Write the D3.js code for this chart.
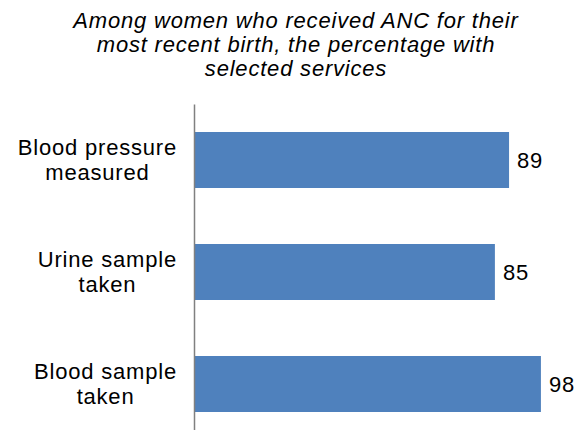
<!DOCTYPE html>
<html>
<head>
<meta charset="utf-8">
<script src="https://cdn.jsdelivr.net/npm/d3@7"></script>
<style>
html,body{margin:0;padding:0;background:#fff;}
svg{display:block;}
</style>
</head>
<body>
<svg id="chart" width="577" height="430"></svg>
<script>
const categories = [["Blood pressure","measured"],["Urine sample","taken"],["Blood sample","taken"]];
const values = [89, 85, 98];
const titleLines = ["Among women who received ANC for their","most recent birth, the percentage with","selected services"];

const svg = d3.select("#chart");
const font = "'Liberation Sans', Arial, sans-serif";
const fs = 22;
const ls = "0.8px";
const keys = categories.map(c => c.join(" "));

const x = d3.scaleLinear().domain([0, 100]).range([194, 548]);
const y = d3.scaleBand().domain(keys).range([104, 440]).paddingInner(0.5).paddingOuter(0.25);

// title
svg.append("g").selectAll("text").data(titleLines).join("text")
  .attr("x", 296).attr("y", (d,i) => 28 + i*24)
  .attr("text-anchor", "middle")
  .attr("font-family", font).attr("font-style", "italic").attr("font-size", fs)
  .attr("letter-spacing", ls)
  .attr("fill", "#000").text(d => d);

// bars
svg.append("g").selectAll("rect").data(values).join("rect")
  .attr("x", x(0)).attr("y", (d,i) => y(keys[i]))
  .attr("width", d => x(d) - x(0)).attr("height", y.bandwidth())
  .attr("fill", "#4F81BD");

// axis
const axis = d3.axisLeft(y).tickSize(0).tickFormat("");
const ag = svg.append("g").attr("transform", `translate(${x(0)},0)`).call(axis);
ag.select(".domain").attr("stroke", "#808080").attr("stroke-width", 1.5);

// value labels
svg.append("g").selectAll("text").data(values).join("text")
  .attr("x", d => x(d) + 8).attr("y", (d,i) => y(keys[i]) + y.bandwidth()/2 + fs*0.35)
  .attr("font-family", font).attr("font-size", fs).attr("letter-spacing", ls).attr("fill", "#000")
  .text(d => d);

// category labels
const lh = 25;
categories.forEach((lines, i) => {
  const g = svg.append("g");
  const cy = y(keys[i]) + y.bandwidth()/2;
  const t = g.selectAll("text").data(lines).join("text")
    .attr("y", (d,j) => cy + (j - (lines.length-1)/2)*lh + fs*0.33)
    .attr("text-anchor", "middle")
    .attr("font-family", font).attr("font-size", fs).attr("letter-spacing", ls).attr("fill", "#000")
    .text(d => d);
  let maxW = 0;
  t.each(function(){ maxW = Math.max(maxW, this.getComputedTextLength()); });
  t.attr("x", 177 - maxW/2);
});
</script>
</body>
</html>
